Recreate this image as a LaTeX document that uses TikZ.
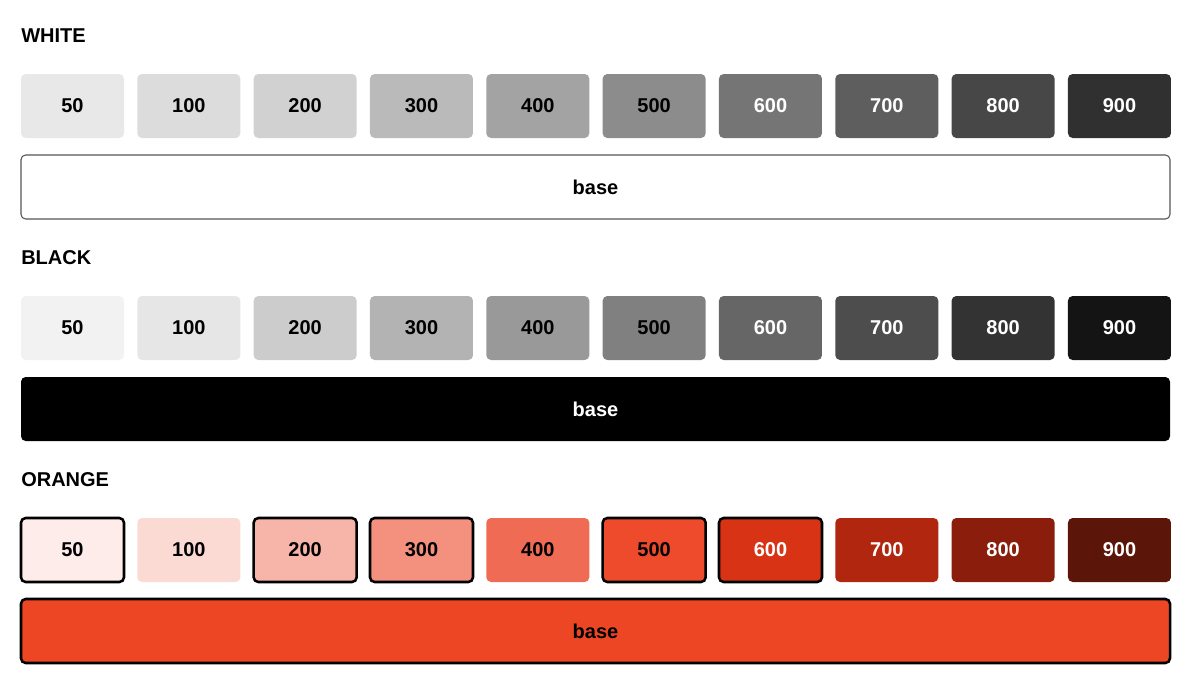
\documentclass[tikz,border=0pt]{standalone}
\usepackage{fontspec}
\setmainfont{Liberation Sans}
\usepackage{tikz}
\usetikzlibrary{positioning}

\definecolor{w50}{HTML}{E8E8E8}
\definecolor{w100}{HTML}{DCDCDC}
\definecolor{w200}{HTML}{D1D1D1}
\definecolor{w300}{HTML}{BABABA}
\definecolor{w400}{HTML}{A3A3A3}
\definecolor{w500}{HTML}{8C8C8C}
\definecolor{w600}{HTML}{757575}
\definecolor{w700}{HTML}{5E5E5E}
\definecolor{w800}{HTML}{474747}
\definecolor{w900}{HTML}{303030}
\definecolor{b50}{HTML}{F2F2F2}
\definecolor{b100}{HTML}{E6E6E6}
\definecolor{b200}{HTML}{CCCCCC}
\definecolor{b300}{HTML}{B3B3B3}
\definecolor{b400}{HTML}{999999}
\definecolor{b500}{HTML}{808080}
\definecolor{b600}{HTML}{666666}
\definecolor{b700}{HTML}{4D4D4D}
\definecolor{b800}{HTML}{333333}
\definecolor{b900}{HTML}{141414}
\definecolor{o50}{HTML}{FDECEA}
\definecolor{o100}{HTML}{FBDAD4}
\definecolor{o200}{HTML}{F7B5A9}
\definecolor{o300}{HTML}{F4907E}
\definecolor{o400}{HTML}{F06B53}
\definecolor{o500}{HTML}{EE4A2C}
\definecolor{o600}{HTML}{D83314}
\definecolor{o700}{HTML}{B0260F}
\definecolor{o800}{HTML}{8A1D0C}
\definecolor{o900}{HTML}{5C1509}
\definecolor{obase}{HTML}{ED4624}
\definecolor{rim}{HTML}{555555}

\begin{document}
\begin{tikzpicture}[x=0.75pt, y=-0.75pt,
    swatch/.style={rectangle, rounded corners=3.5pt, inner sep=0pt,
      minimum width=77.25pt, minimum height=48pt,
      font=\fontsize{15}{18}\selectfont\bfseries},
    picked/.style={draw=black, line width=1.9pt},
    unpicked/.style={},
    bar/.style={rectangle, rounded corners=3.5pt, inner sep=0pt,
      minimum width=861.75pt, minimum height=48pt,
      font=\fontsize{15}{18}\selectfont\bfseries},
    heading/.style={anchor=west, inner sep=0pt,
      font=\fontsize{15}{18}\selectfont\bfseries}]
  \useasboundingbox (0,0) rectangle (1191,690);

  % white
  \node[heading] (whitelbl) at (21,36) {WHITE};
  \foreach \v/\c/\t [count=\i from 0] in {50/w50/black, 100/w100/black,
      200/w200/black, 300/w300/black, 400/w400/black, 500/w500/black,
      600/w600/white, 700/w700/white, 800/w800/white, 900/w900/white}
    \node[swatch, fill=\c, text=\t] (w\v) at (72.5+\i*116.33,106) {\v};
  \node[bar, fill=white, draw=rim, line width=0.8pt] (wbase) at (595.5,187) {base};

  % black
  \node[heading] (blacklbl) at (21,258) {BLACK};
  \foreach \v/\c/\t [count=\i from 0] in {50/b50/black, 100/b100/black,
      200/b200/black, 300/b300/black, 400/b400/black, 500/b500/black,
      600/b600/white, 700/b700/white, 800/b800/white, 900/b900/white}
    \node[swatch, fill=\c, text=\t] (b\v) at (72.5+\i*116.33,328) {\v};
  \node[bar, fill=black, text=white] (bbase) at (595.5,409) {base};

  % orange
  \node[heading] (orangelbl) at (21,480) {ORANGE};
  \foreach \v/\c/\t/\s [count=\i from 0] in {50/o50/black/picked,
      100/o100/black/unpicked, 200/o200/black/picked, 300/o300/black/picked,
      400/o400/black/unpicked, 500/o500/black/picked, 600/o600/white/picked,
      700/o700/white/unpicked, 800/o800/white/unpicked, 900/o900/white/unpicked}
    \node[swatch, \s, fill=\c, text=\t] (o\v) at (72.5+\i*116.33,550) {\v};
  \node[bar, picked, fill=obase] (obasebar) at (595.5,631) {base};
\end{tikzpicture}
\end{document}
